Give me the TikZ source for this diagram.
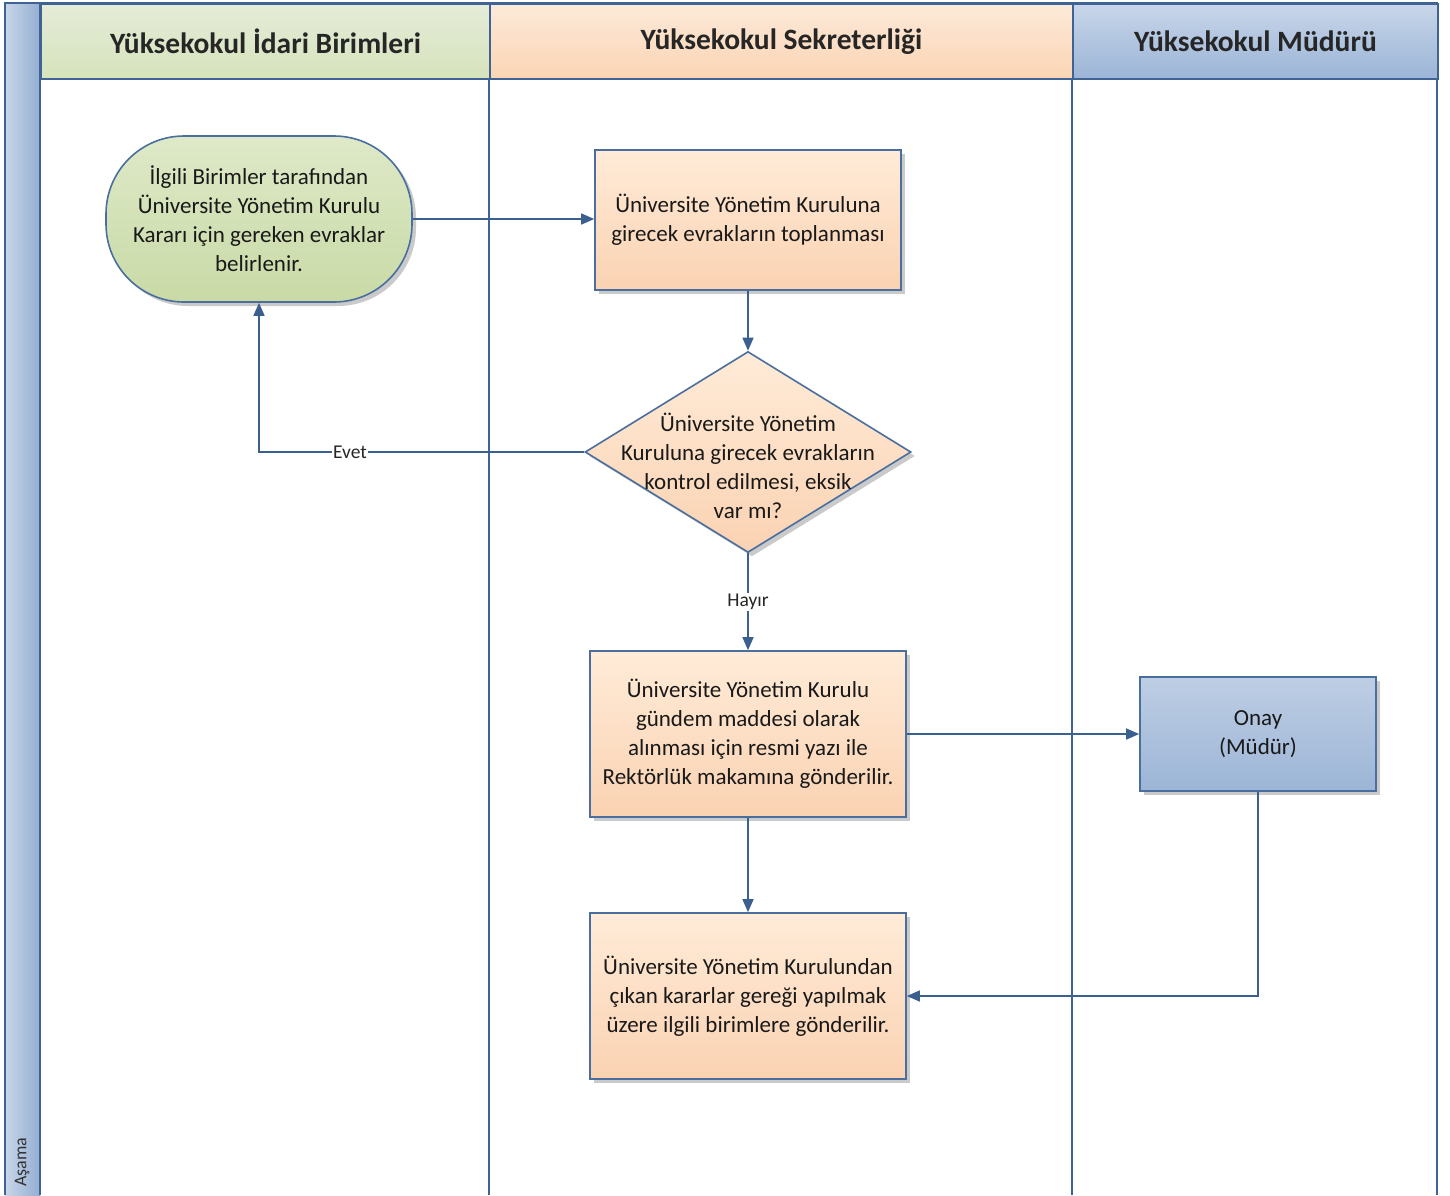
\documentclass[tikz,border=0pt]{standalone}
\usepackage{fontspec}
\setmainfont{Carlito}
\usetikzlibrary{arrows.meta,shapes.geometric,shadows}
\definecolor{lanec}{HTML}{3E6394}
\definecolor{edgec}{HTML}{3B5F8F}
\definecolor{nodec}{HTML}{4A6E9E}
\tikzset{
  hdr/.style={draw=lanec, line width=2pt, minimum height=75pt, inner sep=0pt, font=\bfseries\fontsize{29.5}{34}\selectfont, text=black!85},
  txt/.style={align=center, font=\fontsize{23}{29}\selectfont, text=black!90, inner sep=0pt},
  shad/.style={drop shadow={shadow xshift=4pt, shadow yshift=-4pt, opacity=0.35, fill=black!60}},
  peachbox/.style={draw=nodec, line width=1.6pt, top color=orange!6!white!90!orange, bottom color={rgb,255:red,250;green,210;blue,178}, shad, rectangle, inner sep=0pt},
  arr/.style={draw=edgec, line width=1.5pt, -{Triangle[length=13pt,width=11pt]}},
  lab/.style={fill=white, inner sep=1pt, font=\fontsize{19.5}{22}\selectfont, text=black!85},
}
\begin{document}
\begin{tikzpicture}[x=1pt,y=-1pt]
\useasboundingbox (0,0) rectangle (1450,1195);
% left strip
\shade[left color={rgb,255:red,200;green,214;blue,232}, right color={rgb,255:red,148;green,174;blue,210}] (5,3) rectangle (40,1195);
\draw[lanec, line width=2pt] (5,1195) -- (5,3) -- (1437,3) -- (1437,1195);
\draw[lanec, line width=2pt] (40,3) -- (40,1195);
\node[rotate=90, font=\fontsize{18}{20}\selectfont, text=black!80, inner sep=0pt] (asama) at (22,1162) {Aşama};
% headers
\node[hdr, top color={rgb,255:red,229;green,236;blue,216}, bottom color={rgb,255:red,214;green,227;blue,188}, minimum width=449pt, anchor=north west] (h1) at (40,3) {Yüksekokul İdari Birimleri};
\node[hdr, top color={rgb,255:red,253;green,233;blue,217}, bottom color={rgb,255:red,250;green,213;blue,180}, minimum width=583pt, anchor=north west] (h2) at (489,3) {Yüksekokul Sekreterliği};
\node[hdr, top color={rgb,255:red,200;green,214;blue,233}, bottom color={rgb,255:red,155;green,180;blue,214}, minimum width=365pt, anchor=north west] (h3) at (1072,3) {Yüksekokul Müdürü};
\draw[lanec, line width=2pt] (489,78) -- (489,1195);
\draw[lanec, line width=2pt] (1072,78) -- (1072,1195);
% nodes
\node[draw=nodec, line width=1.6pt, rectangle, rounded corners=78pt, minimum width=306pt, minimum height=166pt,
  top color={rgb,255:red,222;green,233;blue,200}, bottom color={rgb,255:red,201;green,218;blue,166}, shad] (start) at (259,219) {};
\node[txt] (starttxt) at (start.center) {İlgili Birimler tarafından\\Üniversite Yönetim Kurulu\\Kararı için gereken evraklar\\belirlenir.};
\node[peachbox, minimum width=306pt, minimum height=140pt] (b1) at (748,220) {};
\node[txt] (b1txt) at (b1.center) {Üniversite Yönetim Kuruluna\\girecek evrakların toplanması};
\node[draw=nodec, line width=1.6pt, diamond, minimum width=326pt, minimum height=201pt, inner sep=0pt,
  top color=orange!6!white!90!orange, bottom color={rgb,255:red,250;green,210;blue,178}, shad] (d) at (748,452) {};
\node[txt] (dtxt) at (748,466) {Üniversite Yönetim\\Kuruluna girecek evrakların\\kontrol edilmesi, eksik\\var mı?};
\node[peachbox, minimum width=316pt, minimum height=166pt] (b2) at (748,734) {};
\node[txt] (b2txt) at (b2.center) {Üniversite Yönetim Kurulu\\gündem maddesi olarak\\alınması için resmi yazı ile\\Rektörlük makamına gönderilir.};
\node[peachbox, minimum width=316pt, minimum height=166pt] (b3) at (748,996) {};
\node[txt] (b3txt) at (b3.center) {Üniversite Yönetim Kurulundan\\çıkan kararlar gereği yapılmak\\üzere ilgili birimlere gönderilir.};
\node[draw=nodec, line width=1.6pt, rectangle, minimum width=236pt, minimum height=114pt, inner sep=0pt,
  top color={rgb,255:red,190;green,206;blue,228}, bottom color={rgb,255:red,156;green,181;blue,214}, shad] (onay) at (1258,734) {};
\node[txt] (onaytxt) at (onay.center) {Onay\\(Müdür)};
% edges
\draw[arr] (start.east) -- (start.east -| b1.west);
\draw[arr] (b1.south) -- (d.north);
\draw[arr] (d.west) -| node[lab, pos=0.36] {Evet} (start.south);
\draw[arr] (d.south) -- node[lab] {Hayır} (b2.north);
\draw[arr] (b2.east) -- (onay.west);
\draw[arr] (b2.south) -- (b3.north);
\draw[arr] (onay.south) |- (b3.east);
\end{tikzpicture}
\end{document}
